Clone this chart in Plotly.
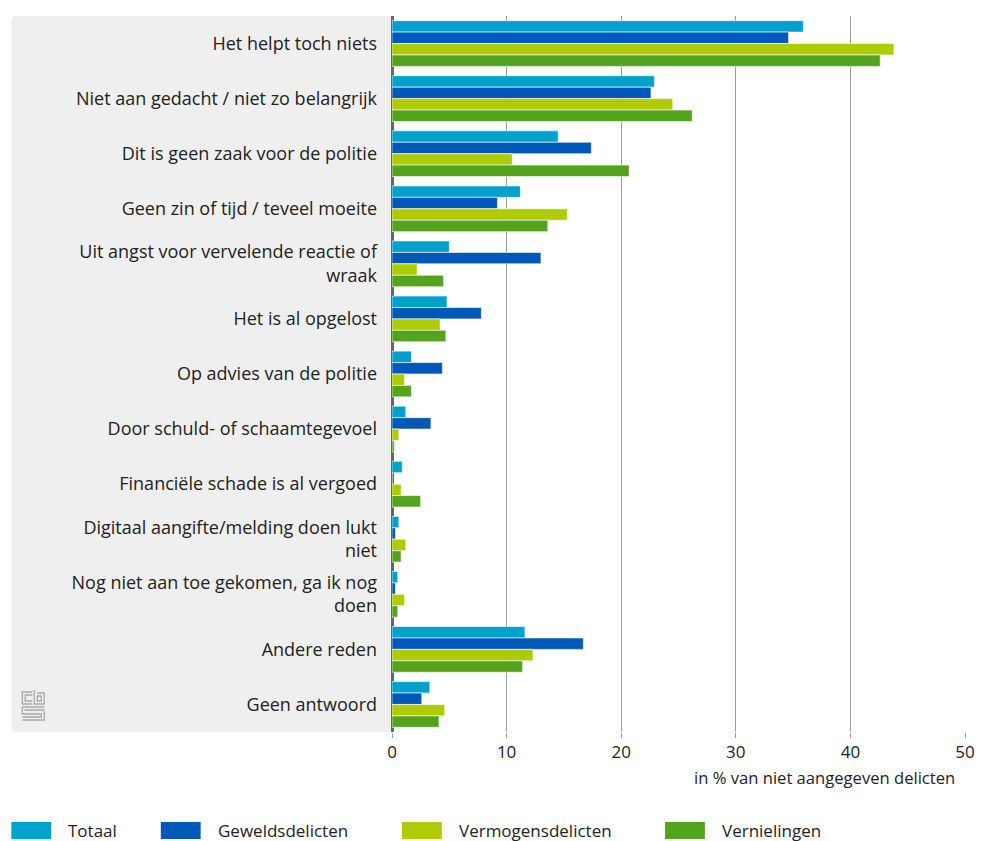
import plotly.graph_objects as go

categories = [
    "Het helpt toch niets",
    "Niet aan gedacht / niet zo belangrijk",
    "Dit is geen zaak voor de politie",
    "Geen zin of tijd / teveel moeite",
    "Uit angst voor vervelende reactie of<br>wraak",
    "Het is al opgelost",
    "Op advies van de politie",
    "Door schuld- of schaamtegevoel",
    "Financiële schade is al vergoed",
    "Digitaal aangifte/melding doen lukt<br>niet",
    "Nog niet aan toe gekomen, ga ik nog<br>doen",
    "Andere reden",
    "Geen antwoord",
]

series_names = ["Totaal", "Geweldsdelicten", "Vermogensdelicten", "Vernielingen"]
totaal = [35.9, 22.9, 14.5, 11.2, 5.0, 4.8, 1.7, 1.2, 0.9, 0.6, 0.5, 11.6, 3.3]
geweld = [34.6, 22.6, 17.4, 9.2, 13.0, 7.8, 4.4, 3.4, 0.0, 0.3, 0.3, 16.7, 2.6]
vermogen = [43.8, 24.5, 10.5, 15.3, 2.2, 4.2, 1.1, 0.6, 0.8, 1.2, 1.1, 12.3, 4.6]
vernielingen = [42.6, 26.2, 20.7, 13.6, 4.5, 4.7, 1.7, 0.2, 2.5, 0.8, 0.5, 11.4, 4.1]
series_values = [totaal, geweld, vermogen, vernielingen]
colors = ["#00a1cd", "#0058b8", "#afcb05", "#53a31d"]

x_ticks = [0, 10, 20, 30, 40, 50]
x_title = "in % van niet aangegeven delicten"

W, H = 987, 841
ML, MR, MT, MB = 392, 20, 16, 109
PW, PH = W - ML - MR, H - MT - MB


def px(x):
    return (x - ML) / PW


def py(y):
    return (H - MB - y) / PH


FONT = "Open Sans"
TXT = "#222222"

fig = go.Figure()
for name, vals, col in zip(series_names, series_values, colors):
    fig.add_trace(go.Bar(
        y=categories, x=vals, name=name, orientation="h",
        marker=dict(color=col, line=dict(color="rgba(255,255,255,0.6)", width=1)),
        hoverinfo="x+name",
    ))

shapes = []
# grey label panel with rounded left corners
x0, x1, y0, y1, r = 10, ML, 16, H - MB, 5
path = (
    f"M {px(x0 + r)},{py(y0)} L {px(x1)},{py(y0)} L {px(x1)},{py(y1)} "
    f"L {px(x0 + r)},{py(y1)} Q {px(x0)},{py(y1)} {px(x0)},{py(y1 - r)} "
    f"L {px(x0)},{py(y0 + r)} Q {px(x0)},{py(y0)} {px(x0 + r)},{py(y0)} Z"
)
shapes.append(dict(type="path", xref="paper", yref="paper", path=path,
                   fillcolor="#efefef", line=dict(width=0), layer="below"))


def seg(points):
    return "M " + " L ".join(f"{px(a)},{py(b)}" for a, b in points)


# cbs logo (approximation)
logo_paths = [
    seg([(31, 692), (21, 692), (21, 704), (31, 704)]),
    seg([(31, 695), (24, 695), (24, 701), (31, 701)]),
    seg([(33, 690), (33, 704), (43, 704), (43, 693), (36, 693)]),
    seg([(36, 696), (40, 696), (40, 701), (36, 701), (36, 696)]),
    seg([(43, 707), (21, 707), (21, 714), (40, 714), (40, 717), (21, 717)]),
    seg([(43, 710), (24, 710), (24, 711)]),
    seg([(43, 711), (43, 720), (21, 720)]),
]
for p in logo_paths:
    shapes.append(dict(type="path", xref="paper", yref="paper", path=p,
                       line=dict(color="#a8a8a8", width=1.3)))

annotations = []
legend_x = [10, 160, 402, 666]
for name, col, lx in zip(series_names, colors, legend_x):
    shapes.append(dict(type="rect", xref="paper", yref="paper",
                       x0=px(lx), x1=px(lx + 40), y0=py(822), y1=py(839),
                       fillcolor=col, line=dict(width=0)))
    annotations.append(dict(text=name, xref="paper", yref="paper",
                            x=px(lx + 55), y=py(831), xanchor="left", yanchor="middle",
                            showarrow=False, font=dict(family=FONT, size=17, color=TXT)))

annotations.append(dict(text=x_title, xref="paper", yref="paper",
                        x=px(959), y=py(778), xanchor="right", yanchor="middle",
                        showarrow=False, font=dict(family=FONT, size=16.6, color=TXT)))

fig.update_layout(
    width=W, height=H,
    margin=dict(l=ML, r=MR, t=MT, b=MB, pad=0),
    paper_bgcolor="white", plot_bgcolor="white",
    barmode="group", bargap=0.17, bargroupgap=0.0,
    showlegend=False,
    font=dict(family=FONT, size=17, color=TXT),
    shapes=shapes, annotations=annotations,
    xaxis=dict(range=[0, 50], tickvals=x_ticks, showgrid=True, gridcolor="#9c9c9c",
               gridwidth=1, zeroline=True, zerolinecolor="#666666", zerolinewidth=3,
               ticks="outside", ticklen=5, tickcolor="#9c9c9c", showline=False,
               tickfont=dict(family=FONT, size=17, color=TXT), fixedrange=True),
    yaxis=dict(autorange="reversed", showgrid=False, zeroline=False, ticks="",
               ticklabelstandoff=14, tickfont=dict(family=FONT, size=18, color=TXT),
               fixedrange=True),
)

fig.write_html(
    "out.html",
    config={"displayModeBar": False},
    post_script="document.body.style.margin='0';document.body.style.overflow='hidden';",
)
